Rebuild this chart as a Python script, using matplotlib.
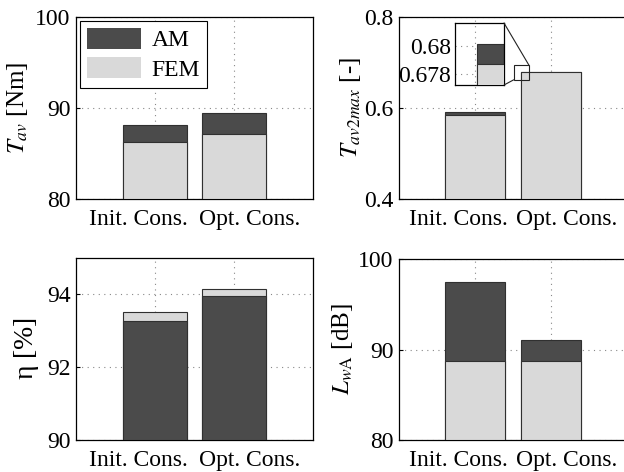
import numpy as np
import matplotlib
matplotlib.use('Agg')
import matplotlib.pyplot as plt
import matplotlib.transforms as mtrans
from matplotlib.patches import Rectangle, ConnectionPatch

plt.rcParams['font.family'] = ['Liberation Serif', 'DejaVu Serif']
plt.rcParams['mathtext.fontset'] = 'stix'
plt.rcParams['font.size'] = 17

# data
cases = ['Init. Cons.', 'Opt. Cons.']
torque_am = [88.15, 89.5]
torque_fem = [86.3, 87.1]
tratio_am = [0.5905, 0.6801]
tratio_fem = [0.5855, 0.6787]
eff_am = [93.27, 93.96]
eff_fem = [93.53, 94.14]
noise_am = [97.5, 91.1]
noise_fem = [88.75, 88.7]

dark = '#4b4b4b'
light = '#d9d9d9'
edge = '#303030'
W, H = 624, 472
label_shift = [-17, 16]  # px, tick labels sit apart from the bar centres


def px_axes(fig, x0, y0, x1, y1):
    # pixel box (top-left origin) -> figure fraction
    return fig.add_axes([x0 / W, 1 - y1 / H, (x1 - x0) / W, (y1 - y0) / H])


def draw_bars(ax, am, fem, ylim, yticks, ylabel, fmt=None):
    x = np.arange(1, len(cases) + 1)
    for i in range(len(x)):
        # the shorter bar goes in front
        za, zf = (2, 3) if fem[i] < am[i] else (3, 2)
        ax.bar(x[i], am[i] - ylim[0], bottom=ylim[0], width=0.8, color=dark,
               edgecolor=edge, linewidth=0.8, zorder=za)
        ax.bar(x[i], fem[i] - ylim[0], bottom=ylim[0], width=0.8, color=light,
               edgecolor=edge, linewidth=0.8, zorder=zf)
    ax.set_xlim(0, 3)
    ax.set_ylim(*ylim)
    ax.set_xticks(x)
    ax.set_xticklabels(cases)
    ax.set_yticks(yticks)
    if fmt:
        ax.set_yticklabels([fmt % v for v in yticks])
    ax.set_ylabel(ylabel, fontsize=18, labelpad=4)
    ax.grid(True, linestyle=(0, (1, 4)), color='#888888', linewidth=0.8, zorder=1)
    ax.set_axisbelow(True)
    ax.tick_params(direction='in', length=3, pad=4)
    ax.tick_params(axis='x', pad=7.5)
    for lab, dx in zip(ax.get_xticklabels(), label_shift):
        lab.set_transform(lab.get_transform() +
                          mtrans.ScaledTranslation(dx / 100, 0, fig.dpi_scale_trans))
    for s in ax.spines.values():
        s.set_linewidth(0.9)


fig = plt.figure(figsize=(6.24, 4.72), dpi=100)

ax1 = px_axes(fig, 76, 17, 313, 199)
draw_bars(ax1, torque_am, torque_fem, (80, 100), [80, 90, 100], r'$T_{av}$ [Nm]')
ax1.bar([0], [0], color=dark, label='AM')
ax1.bar([0], [0], color=light, label='FEM')
leg = ax1.legend(loc='upper left', fancybox=False, edgecolor='black', framealpha=1,
                 handlelength=2.3, handleheight=1.0, borderpad=0.3, labelspacing=0.25,
                 borderaxespad=0.15, handletextpad=0.45)
leg.get_frame().set_linewidth(0.8)

ax2 = px_axes(fig, 399, 17, 627, 199)
draw_bars(ax2, tratio_am, tratio_fem, (0.4, 0.8), [0.4, 0.6, 0.8], r'$T_{av2max}$ [-]', '%.1f')
ax2.yaxis.labelpad = 1

ax3 = px_axes(fig, 76, 258, 313, 440)
draw_bars(ax3, eff_am, eff_fem, (90, 95), [90, 92, 94], r'$\mathregular{\eta}$ [%]')
ax3.yaxis.label.set_size(20)

ax4 = px_axes(fig, 399, 259, 627, 440)
draw_bars(ax4, noise_am, noise_fem, (80, 100), [80, 90, 100], r'$L_{w\mathrm{A}}$ [dB]')
ax4.yaxis.labelpad = 2

# zoom inset on the optimised T ratio
ins = px_axes(fig, 455, 23, 504, 85)
ins.set_facecolor('none')
ins.bar([2], [tratio_am[1] - 0.6], bottom=0.6, width=0.8, color=dark, edgecolor=edge,
        linewidth=0.8, zorder=2)
ins.bar([2], [tratio_fem[1] - 0.6], bottom=0.6, width=0.8, color=light, edgecolor=edge,
        linewidth=0.8, zorder=3)
ins.set_xlim(1.51, 1.71)
ins.set_ylim(0.6772, 0.6816)
ins.set_xticks([])
ins.set_yticks([0.678, 0.68])
ins.set_yticklabels(['0.678', '0.68'])
ins.yaxis.grid(True, linestyle=(0, (1, 4)), color='#888888', linewidth=0.8)
ins.set_axisbelow(True)
ins.tick_params(direction='in', length=0, pad=3)
for s in ins.spines.values():
    s.set_linewidth(0.9)

rx0, rx1, ry0, ry1 = 1.51, 1.71, 0.662, 0.694
ax2.add_patch(Rectangle((rx0, ry0), rx1 - rx0, ry1 - ry0, fill=False, edgecolor='#222222',
                        linewidth=0.8, zorder=5))
for pa, pb in [((1, 1), (rx1, ry1)), ((1, 0), (rx0, ry0))]:
    con = ConnectionPatch(xyA=pa, coordsA=ins.transAxes, xyB=pb, coordsB=ax2.transData,
                          color='#222222', linewidth=0.8)
    fig.add_artist(con)

fig.savefig('out.png', dpi=100)
